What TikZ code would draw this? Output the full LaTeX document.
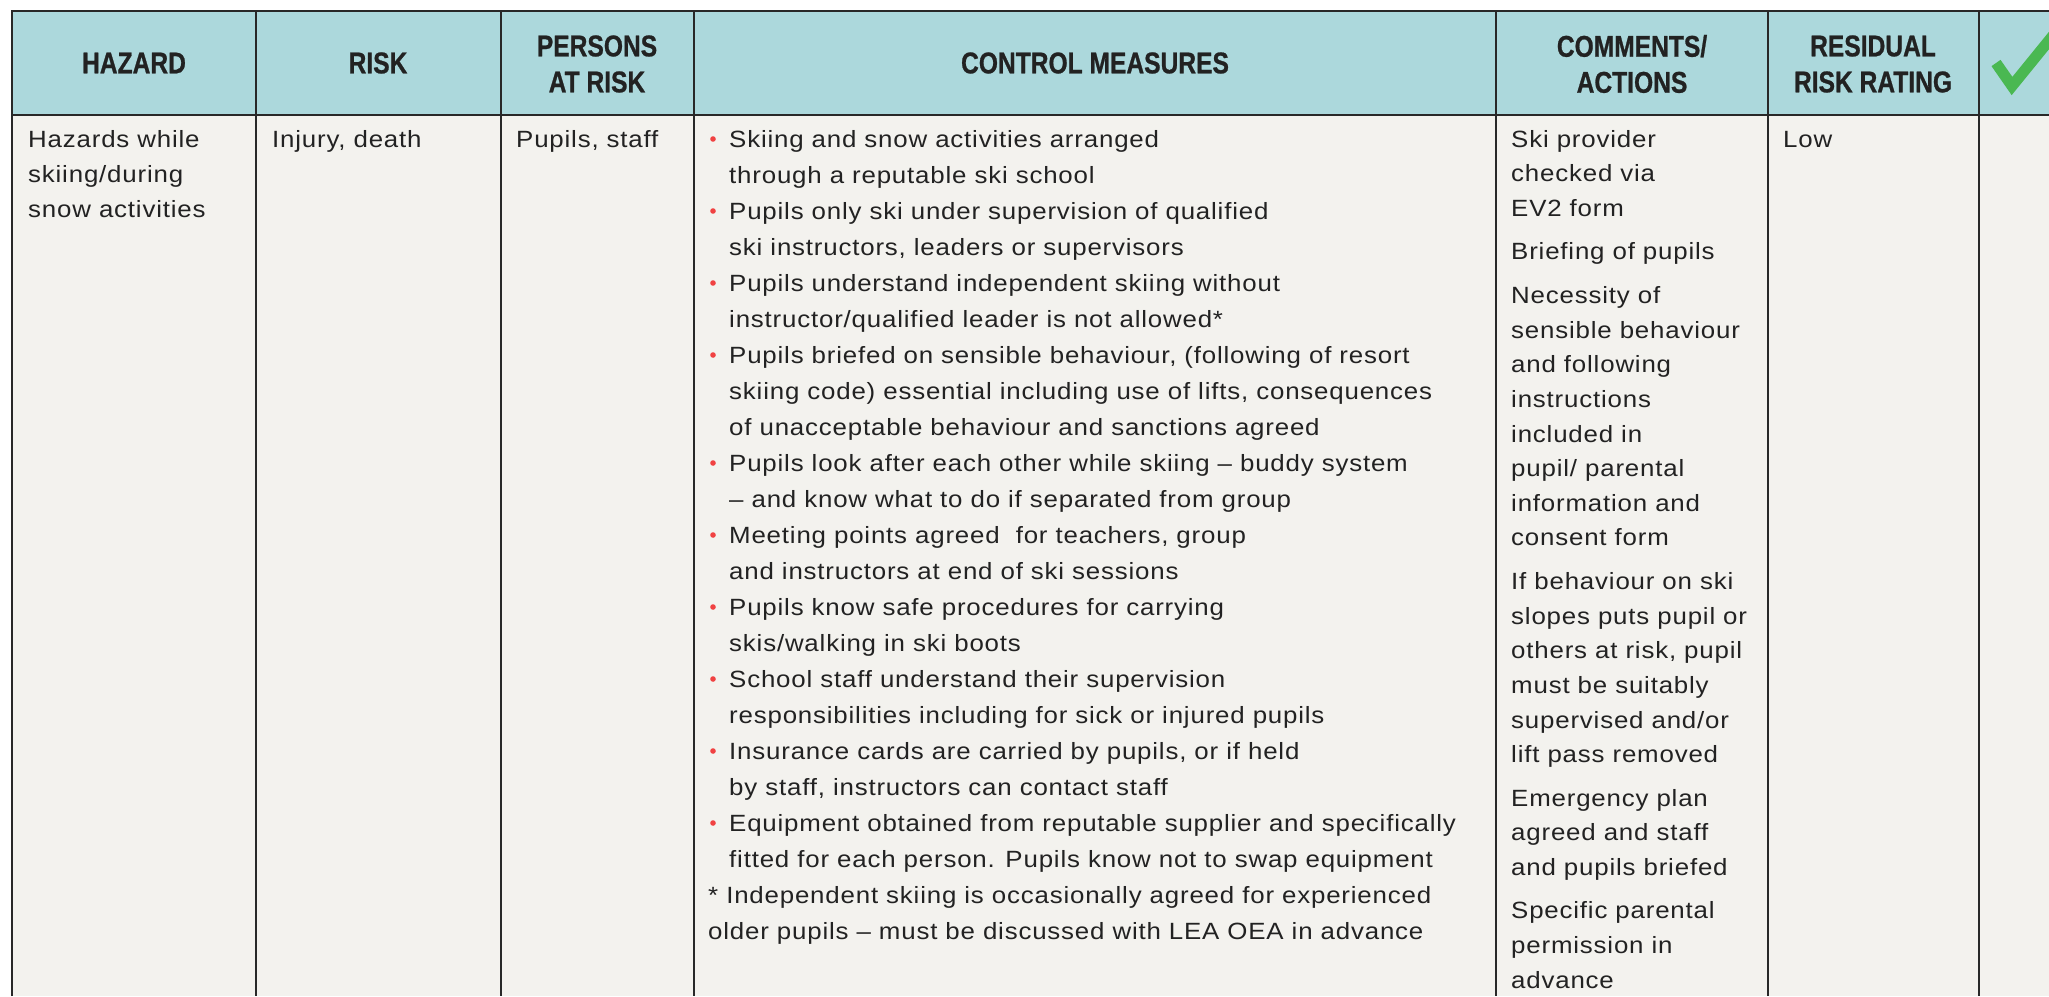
\documentclass[tikz,border=0pt]{standalone}
\usepackage{fontspec}
\setmainfont[FakeStretch=1.1,LetterSpace=3.5]{Liberation Sans}
\newfontfamily\hdrfont[FakeStretch=0.82,FakeBold=0.8]{Liberation Sans}
\definecolor{hdrbg}{RGB}{172,216,220}
\definecolor{bodybg}{RGB}{243,242,238}
\definecolor{rulecol}{RGB}{40,40,40}
\definecolor{txtcol}{RGB}{34,34,34}
\definecolor{bulred}{RGB}{240,66,66}
\definecolor{tickgreen}{RGB}{74,184,82}
\tikzset{
  hdrtext/.style={anchor=center, inner sep=0pt, align=center, text=txtcol,
    font=\hdrfont\bfseries\fontsize{30}{36}\selectfont},
  celltext/.style={anchor=north west, inner sep=0pt, align=left, text=txtcol,
    font=\fontsize{23.5}{35}\selectfont},
  ctrltext/.style={celltext, font=\fontsize{23.5}{36}\selectfont},
  commtext/.style={celltext, font=\fontsize{23.5}{34.65}\selectfont},
  gridline/.style={draw=rulecol, line width=2.5pt},
  bulletdot/.style={fill=bulred},
}
\begin{document}
\begin{tikzpicture}[x=1pt,y=-1pt]
\useasboundingbox (0,0) rectangle (2049,996);
\fill[white] (0,0) rectangle (2049,996);
\fill[hdrbg] (12,11) rectangle (2049,115);
\fill[bodybg] (12,115) rectangle (2049,996);
% check mark
\begin{scope}
\clip (1979,11) rectangle (2049,115);
\draw[tickgreen, line width=11pt, line join=miter] (1996,63) -- (2012,86) -- (2064,22);
\end{scope}
% grid
\draw[gridline] (12,996) -- (12,11) -- (2049,11);
\draw[gridline] (12,115) -- (2049,115);
\foreach \xx in {256,501,694,1496,1768,1979}
  \draw[gridline] (\xx,11) -- (\xx,996);
% header
\node[hdrtext] (hhazard) at (134,63) {HAZARD};
\node[hdrtext] (hrisk) at (378,63) {RISK};
\node[hdrtext] (hpersons) at (597,64) {PERSONS\\AT RISK};
\node[hdrtext] (hcontrol) at (1095,63) {CONTROL MEASURES};
\node[hdrtext] (hcomments) at (1632,64) {COMMENTS/\\ACTIONS};
\node[hdrtext] (hresidual) at (1873,64) {RESIDUAL\\RISK RATING};
% body
\def\bzero{147}
\node[celltext] (thazard) at (28,\bzero-24.5) {\strut Hazards while\\skiing/during\\snow activities};
\node[celltext] (trisk) at (272,\bzero-24.5) {\strut Injury, death};
\node[celltext] (tpersons) at (516,\bzero-24.5) {\strut Pupils, staff};
\node[ctrltext] (tcontrol) at (708,\bzero-25.2) {\strut\hspace*{21pt}Skiing and snow activities arranged\\
\hspace*{21pt}through a reputable ski school\\
\hspace*{21pt}Pupils only ski under supervision of qualified\\
\hspace*{21pt}ski instructors, leaders or supervisors\\
\hspace*{21pt}Pupils understand independent skiing without\\
\hspace*{21pt}instructor/qualified leader is not allowed*\\
\hspace*{21pt}Pupils briefed on sensible behaviour, (following of resort\\
\hspace*{21pt}skiing code) essential including use of lifts, consequences\\
\hspace*{21pt}of unacceptable behaviour and sanctions agreed\\
\hspace*{21pt}Pupils look after each other while skiing – buddy system\\
\hspace*{21pt}– and know what to do if separated from group\\
\hspace*{21pt}Meeting points agreed\ \ for teachers, group\\
\hspace*{21pt}and instructors at end of ski sessions\\
\hspace*{21pt}Pupils know safe procedures for carrying\\
\hspace*{21pt}skis/walking in ski boots\\
\hspace*{21pt}School staff understand their supervision\\
\hspace*{21pt}responsibilities including for sick or injured pupils\\
\hspace*{21pt}Insurance cards are carried by pupils, or if held\\
\hspace*{21pt}by staff, instructors can contact staff\\
\hspace*{21pt}Equipment obtained from reputable supplier and specifically\\
\hspace*{21pt}fitted for each person. Pupils know not to swap equipment\\
* Independent skiing is occasionally agreed for experienced\\
older pupils – must be discussed with LEA OEA in advance};
\foreach \ii in {0,2,4,6,9,11,13,15,17,19}
  \fill[bulletdot] (713,\bzero+36*\ii-8) circle (2.8pt);
\node[commtext] (tcomments) at (1511,\bzero-24.255) {\strut Ski provider\\checked via\\EV2 form\\[8.8pt]
Briefing of pupils\\[8.8pt]
Necessity of\\sensible behaviour\\and following\\instructions\\included in\\pupil/ parental\\information and\\consent form\\[8.8pt]
If behaviour on ski\\slopes puts pupil or\\others at risk, pupil\\must be suitably\\supervised and/or\\lift pass removed\\[8.8pt]
Emergency plan\\agreed and staff\\and pupils briefed\\[8.8pt]
Specific parental\\permission in\\advance};
\node[celltext] (tresidual) at (1783,\bzero-24.5) {\strut Low};
\end{tikzpicture}
\end{document}
